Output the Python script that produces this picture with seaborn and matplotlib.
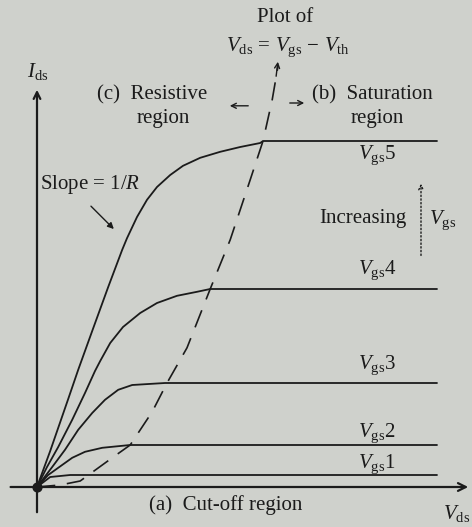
import matplotlib
matplotlib.use("Agg")
import matplotlib.pyplot as plt
import numpy as np
import pandas as pd
import seaborn as sns

# Output characteristic curves, one per gate-source voltage step (Vds, Ids)
vds_g1 = [0, 0.33, 0.83, 10.0]
ids_g1 = [0, 0.25, 0.30, 0.30]

vds_g2 = [0, 0.28, 0.53, 0.88, 1.20, 1.63, 2.33, 10.0]
ids_g2 = [0, 0.30, 0.48, 0.73, 0.88, 0.98, 1.05, 1.05]

vds_g3 = [0, 0.38, 0.70, 1.03, 1.38, 1.70, 2.03, 2.38, 3.20, 10.0]
ids_g3 = [0, 0.50, 0.93, 1.43, 1.85, 2.18, 2.43, 2.55, 2.60, 2.60]

vds_g4 = [0, 0.25, 0.53, 0.88, 1.20, 1.45, 1.58, 1.83, 2.15, 2.58, 3.00, 3.50, 4.00, 4.33, 10.0]
ids_g4 = [0, 0.50, 1.00, 1.68, 2.35, 2.90, 3.15, 3.60, 4.00, 4.35, 4.60, 4.78, 4.88, 4.95, 4.95]

vds_g5 = [0, 0.33, 0.78, 1.03, 1.38, 1.58, 1.78, 2.13, 2.25,
          2.50, 2.75, 3.00, 3.33, 3.65, 4.08, 4.58, 5.08, 5.58, 5.65, 10.0]
ids_g5 = [0, 0.90, 2.20, 2.93, 3.90, 4.45, 5.00, 5.93, 6.22,
          6.75, 7.18, 7.50, 7.80, 8.03, 8.23, 8.38, 8.50, 8.60, 8.65, 8.65]

# Locus of the saturation boundary Vds = Vgs - Vth
vds_sat = [0, 0.58, 1.08, 1.88, 2.33, 2.88, 3.25, 3.75, 4.33, 4.83, 5.33, 5.65, 5.88, 6.03]
ids_sat = [0, 0.05, 0.15, 0.73, 1.05, 1.88, 2.60, 3.48, 4.95, 6.18, 7.68, 8.65, 9.68, 10.55]

gate_steps = ["1", "2", "3", "4", "5"]
curve_x = [vds_g1, vds_g2, vds_g3, vds_g4, vds_g5]
curve_y = [ids_g1, ids_g2, ids_g3, ids_g4, ids_g5]

frames = []
for step, xs, ys in zip(gate_steps, curve_x, curve_y):
    frames.append(pd.DataFrame({"Vds": xs, "Ids": ys, "Vgs": step}))
curves = pd.concat(frames, ignore_index=True)
locus = pd.DataFrame({"Vds": vds_sat, "Ids": ids_sat})

sns.set_theme(style="white")
plt.rcParams["font.family"] = ["Liberation Serif", "DejaVu Serif"]
plt.rcParams["mathtext.fontset"] = "custom"
plt.rcParams["mathtext.rm"] = "Liberation Serif"
plt.rcParams["mathtext.it"] = "Liberation Serif:italic"

ink = "#1b1b1b"
bg = "#cfd1cc"

fig = plt.figure(figsize=(4.72, 5.27), dpi=100, facecolor=bg)
ax = fig.add_axes([0, 0, 1, 1])
ax.set_facecolor(bg)
ax.set_xlim(-0.925, 10.875)
ax.set_ylim(-1.0, 12.175)
ax.axis("off")

# Axes drawn as arrows
ax.annotate("", xy=(10.85, 0), xytext=(-0.73, 0),
            arrowprops=dict(arrowstyle="->", lw=1.6, color=ink, mutation_scale=14))
ax.annotate("", xy=(0, 10.0), xytext=(0, -0.7),
            arrowprops=dict(arrowstyle="->", lw=1.6, color=ink, mutation_scale=12))

sns.lineplot(data=curves, x="Vds", y="Ids", hue="Vgs", estimator=None, sort=False,
             palette=[ink] * 5, linewidth=1.3, legend=False, ax=ax)

sns.lineplot(data=locus, x="Vds", y="Ids", estimator=None, sort=False, color=ink,
             linewidth=1.2, ax=ax)
ax.lines[-1].set_linestyle((0, (11, 7)))
ax.annotate("", xy=(vds_sat[-1], ids_sat[-1] + 0.15), xytext=(vds_sat[-1] - 0.06, ids_sat[-1] - 0.35),
            arrowprops=dict(arrowstyle="->", lw=1.0, color=ink, mutation_scale=9))

ax.scatter([vds_g1[0]], [ids_g1[0]], s=40, color=ink, zorder=5)

fs = 15
ax.text(6.2, 11.75, "Plot of", ha="center", va="center", fontsize=fs, color=ink)
ax.text(6.275, 11.0, r"$V_{\rm ds}\,=\,V_{\rm gs}\,-\,V_{\rm th}$", ha="center", va="center",
        fontsize=fs, color=ink)
ax.text(0.025, 10.4, r"$I_{\rm ds}$", ha="center", va="center", fontsize=fs, color=ink)
ax.text(10.5, -0.65, r"$V_{\rm ds}$", ha="center", va="center", fontsize=fs, color=ink)

ax.text(1.5, 9.8, "(c)  Resistive", ha="left", va="center", fontsize=fs, color=ink)
ax.text(2.5, 9.2, "region", ha="left", va="center", fontsize=fs, color=ink)
ax.text(6.875, 9.8, "(b)  Saturation", ha="left", va="center", fontsize=fs, color=ink)
ax.text(7.85, 9.2, "region", ha="left", va="center", fontsize=fs, color=ink)
ax.annotate("", xy=(4.75, 9.53), xytext=(5.35, 9.53),
            arrowprops=dict(arrowstyle="->", lw=1.0, color=ink, mutation_scale=9))
ax.annotate("", xy=(6.75, 9.6), xytext=(6.25, 9.6),
            arrowprops=dict(arrowstyle="->", lw=1.0, color=ink, mutation_scale=9))

ax.text(0.075, 7.55, r"Slope = 1/$R$", ha="left", va="center", fontsize=fs, color=ink)
ax.annotate("", xy=(1.97, 6.4), xytext=(1.3, 7.07),
            arrowprops=dict(arrowstyle="-|>", lw=1.0, color=ink, mutation_scale=9))

ax.text(7.05, 6.72, "Increasing", ha="left", va="center", fontsize=fs, color=ink)
ax.text(9.8, 6.68, r"$V_{\rm gs}$", ha="left", va="center", fontsize=fs, color=ink)
ax.annotate("", xy=(9.6, 7.65), xytext=(9.6, 5.72),
            arrowprops=dict(arrowstyle="->", lw=1.0, color=ink, linestyle=":", mutation_scale=8))

label_y = [0.58, 1.35, 3.05, 5.42, 8.3]
for step, ly in zip(gate_steps, label_y):
    ax.text(8.5, ly, r"$V_{\rm gs}$" + step, ha="center", va="center", fontsize=fs, color=ink)

ax.text(4.72, -0.45, "(a)  Cut-off region", ha="center", va="center", fontsize=fs, color=ink)

fig.savefig("out.png", dpi=100, facecolor=bg)
